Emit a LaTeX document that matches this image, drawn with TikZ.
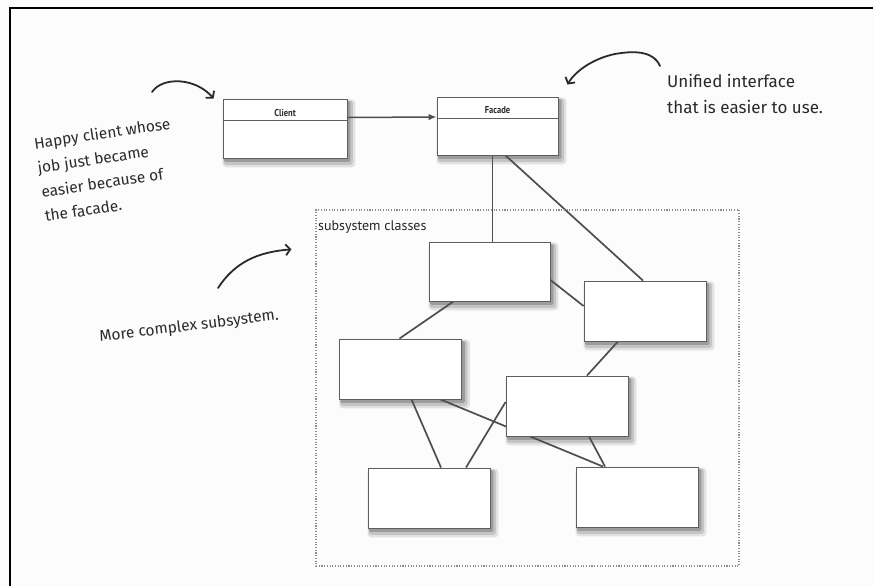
\documentclass[tikz,border=0pt]{standalone}
\usepackage{fontspec}
\setmainfont{Fira Sans}
\newfontfamily\handfont{Fira Sans}
\newfontfamily\labelfont{PT Sans}
\usetikzlibrary{arrows.meta,calc}
\pgfdeclarelayer{bg}
\pgfdeclarelayer{shade}
\pgfdeclarelayer{links}
\pgfsetlayers{bg,shade,links,main}
\definecolor{ink}{HTML}{2A2A2A}
\definecolor{edgecol}{HTML}{4E4E4E}
\definecolor{boxline}{HTML}{5E5E5E}
\definecolor{paper}{HTML}{FCFCFC}
\definecolor{sh1}{HTML}{E2E2E2}
\definecolor{sh2}{HTML}{C4C4C4}
\definecolor{sh3}{HTML}{9C9C9C}
\begin{document}
\begin{tikzpicture}[x=1pt,y=-1pt,
  classbox/.style={rectangle,draw=boxline,line width=0.9pt,fill=white,
    minimum width=122pt,minimum height=60pt,inner sep=0pt},
  classname/.style={font=\labelfont\bfseries\fontsize{10}{11}\selectfont,text=ink,inner sep=0pt},
  link/.style={draw=edgecol,line width=1.7pt},
  note/.style={font=\handfont\fontsize{15.5}{24.5}\selectfont,text=ink,align=left,inner sep=0pt},
  handarrow/.style={draw=ink,line width=1.8pt,line cap=round,
    -{Straight Barb[length=4.5pt,width=11pt]}},
  subframe/.style={draw=black!45,line width=1.3pt,dash pattern=on 1.1pt off 1.6pt,
    rectangle,inner sep=0pt},
  shadeA/.style={fill=sh1,rounded corners=4pt},
  shadeB/.style={fill=sh2,rounded corners=3pt},
  shadeC/.style={fill=sh3,rounded corners=1.5pt}
]
\useasboundingbox (0,0) rectangle (873,586);
\begin{pgfonlayer}{bg}
\fill[paper] (0,0) rectangle (873,586);
\end{pgfonlayer}
\draw[black,line width=2.6pt] (10,590) -- (10,8) -- (876,8);

% subsystem frame
\node[subframe,minimum width=423pt,minimum height=356pt] (sub) at (527.5,388) {};
\node[font=\labelfont\fontsize{14}{16}\selectfont,text=black!85,anchor=base west,inner sep=0pt]
  (sublabel) at (318,230) {subsystem classes};

% class boxes
\node[classbox,minimum width=124pt,minimum height=59pt] (Client) at (285,128.5) {};
\node[classbox,minimum width=121pt,minimum height=58pt] (Facade) at (497.5,126) {};
\draw[boxline,line width=0.9pt] ([yshift=-22]Client.north west) -- ([yshift=-22]Client.north east);
\draw[boxline,line width=0.9pt] ([yshift=-22]Facade.north west) -- ([yshift=-22]Facade.north east);
\node[classname] (clientname) at ([yshift=-14]Client.north) {\scalebox{0.85}[1]{Client}};
\node[classname] (facadename) at ([yshift=-13.5]Facade.north) {\scalebox{0.85}[1]{Facade}};

\node[classbox,minimum width=121pt,minimum height=59pt] (A) at (489.5,271.5) {};
\node[classbox] (B) at (645,311) {};
\node[classbox] (C) at (400.5,369) {};
\node[classbox] (D) at (567,406) {};
\node[classbox] (E) at (429,498) {};
\node[classbox] (F) at (637,497) {};

% soft shadows of the boxes
\begin{pgfonlayer}{shade}
\foreach \n in {Client,Facade,A,B,C,D,E,F}{
  \fill[shadeA] ([xshift=0pt,yshift=-1pt]\n.north west) rectangle ([xshift=8pt,yshift=-9pt]\n.south east);
  \fill[shadeB] ([xshift=1pt,yshift=-2pt]\n.north west) rectangle ([xshift=5.5pt,yshift=-6.5pt]\n.south east);
  \fill[shadeC] ([xshift=1.5pt,yshift=-2.5pt]\n.north west) rectangle ([xshift=3pt,yshift=-3.5pt]\n.south east);
}
\end{pgfonlayer}

% connectors (behind boxes)
\begin{pgfonlayer}{links}
\draw[link] ([xshift=-5]Facade.south) -- ([xshift=3]A.north);
\draw[link] ([xshift=8]Facade.south) -- ([xshift=-2]B.north);
\draw[link] ([yshift=-8.5]A.east) -- ([yshift=5]B.west);
\draw[link] ([xshift=-36]A.south) -- ([xshift=-1]C.north);
\draw[link] ([xshift=-27]B.south) -- ([xshift=20]D.north);
\draw[link] ([xshift=11]C.south) -- ([xshift=12]E.north);
\draw[link] ([xshift=40]C.south) -- ([xshift=-34]F.north);
\draw[link] ([yshift=4]D.west) -- ([xshift=37]E.north);
\draw[link] ([xshift=22]D.south) -- ([xshift=-32]F.north);
\end{pgfonlayer}

% client -> facade
\draw[draw=edgecol,line width=1.5pt,-{Latex[length=8pt,width=6.5pt]}]
  ([yshift=11]Client.east) -- ([yshift=9]Facade.west);

% handwritten notes
\node[note,anchor=north west,rotate=8.5] (happy) at (33,137)
  {Happy client whose\\job just became\\easier because of\\the facade.};
\node[note,anchor=north west,font=\handfont\fontsize{17}{26}\selectfont] (unified) at (667,74)
  {Unified interface\\that is easier to use.};
\node[note,anchor=north west,rotate=7,font=\handfont\fontsize{15.5}{20}\selectfont] (more) at (98.5,330) {More complex subsystem.};

% handwritten arrows
\coordinate (h1) at (152,92);
\coordinate (h2) at (660,66);
\coordinate (h3) at (218,288);
\draw[handarrow] (h1) .. controls (163,76) and (196,78) .. ([xshift=-9]Client.north west);
\draw[handarrow] (h2) .. controls (653,50) and (632,51) .. (615,54)
  .. controls (595,58) and (576,70) .. ([xshift=9,yshift=12]Facade.north east);
\draw[handarrow] (h3) .. controls (235,262) and (258,252) .. ([xshift=-24,yshift=-40]sub.north west);
\end{tikzpicture}
\end{document}
